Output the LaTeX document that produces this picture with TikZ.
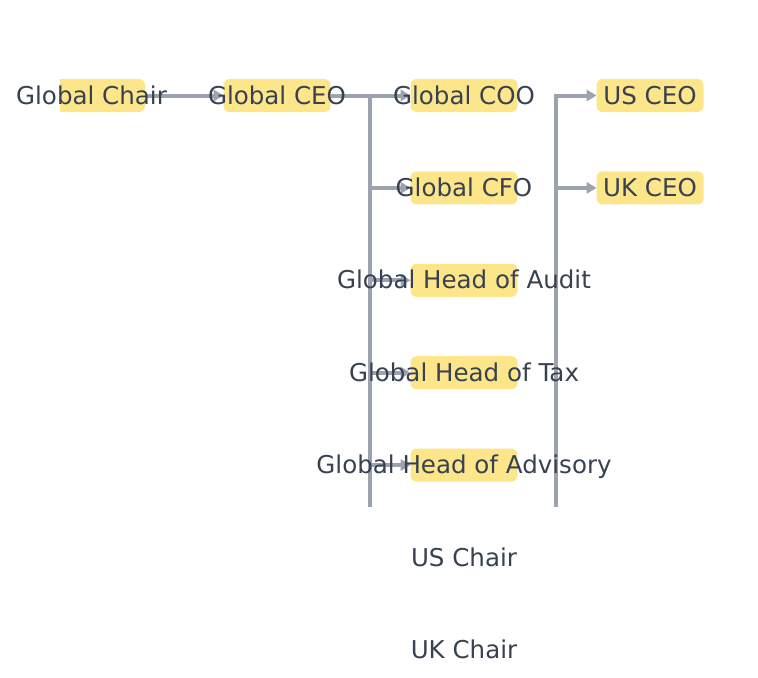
\documentclass[tikz,border=0pt]{standalone}
\usepackage{fontspec}
\setmainfont{DejaVu Sans}
\usetikzlibrary{arrows.meta}
\usetikzlibrary{positioning}

\definecolor{boxfill}{HTML}{FDE68A}
\definecolor{wiregray}{HTML}{9CA3AF}
\definecolor{inkgray}{HTML}{374151}

\begin{document}
\begin{tikzpicture}[x=0.75pt, y=-0.75pt, on grid,
    box/.style={fill=boxfill, rounded corners=4.5pt, minimum width=80.25pt, minimum height=24.75pt, inner sep=0pt, outer sep=0pt},
    txt/.style={text=inkgray, font=\fontsize{18.4pt}{20pt}\selectfont, inner sep=0pt, text height=13.8pt, text depth=1pt},
    wire/.style={draw=wiregray, line width=3pt},
    link/.style={wire, -{Triangle[length=7.5pt, width=8.5pt]}}]
    \useasboundingbox (0,0) rectangle (758,678);

    \begin{scope}
        \clip (60,0) rectangle (758,678);
        \node [box] (chair) at (91.5,95.5) {};
    \end{scope}
    \node [box, right=139.125pt of chair] (ceo) {};
    \node [box, right=140.25pt of ceo] (coo) {};
    \node [box, below=69.3pt of coo] (cfo) {};
    \node [box, below=69.3pt of cfo] (audit) {};
    \node [box, below=69.3pt of audit] (tax) {};
    \node [box, below=69.3pt of tax] (advisory) {};
    \node [box, right=139.5pt of coo] (usceo) {};
    \node [box, below=69.3pt of usceo] (ukceo) {};

    \coordinate (busa) at (370,507);
    \coordinate (busb) at (556,507);

    \draw [link] (chair.east) -- (ceo.west);
    \draw [link] (ceo.east) -- (coo.west);
    \draw [wire] (busa) -- (busa |- coo);
    \draw [link] (busa |- cfo) -- (cfo.west);
    \draw [link] (busa |- audit) -- (audit.west);
    \draw [link] (busa |- tax) -- (tax.west);
    \draw [link] (busa |- advisory) -- (advisory.west);
    \draw [link] (busb) |- (usceo.west);
    \draw [link] (busb |- ukceo) -- (ukceo.west);

    \node [txt] (chairtext) at (chair) {Global Chair};
    \node [txt] (ceotext) at (ceo) {Global CEO};
    \node [txt] (cootext) at (coo) {Global COO};
    \node [txt] (cfotext) at (cfo) {Global CFO};
    \node [txt] (audittext) at (audit) {Global Head of Audit};
    \node [txt] (taxtext) at (tax) {Global Head of Tax};
    \node [txt] (advisorytext) at (advisory) {Global Head of Advisory};
    \node [txt] (usceotext) at (usceo) {US CEO};
    \node [txt] (ukceotext) at (ukceo) {UK CEO};
    \node [txt, below=69.3pt of advisory] (uschair) {US Chair};
    \node [txt, below=69.3pt of uschair] (ukchair) {UK Chair};
\end{tikzpicture}
\end{document}
